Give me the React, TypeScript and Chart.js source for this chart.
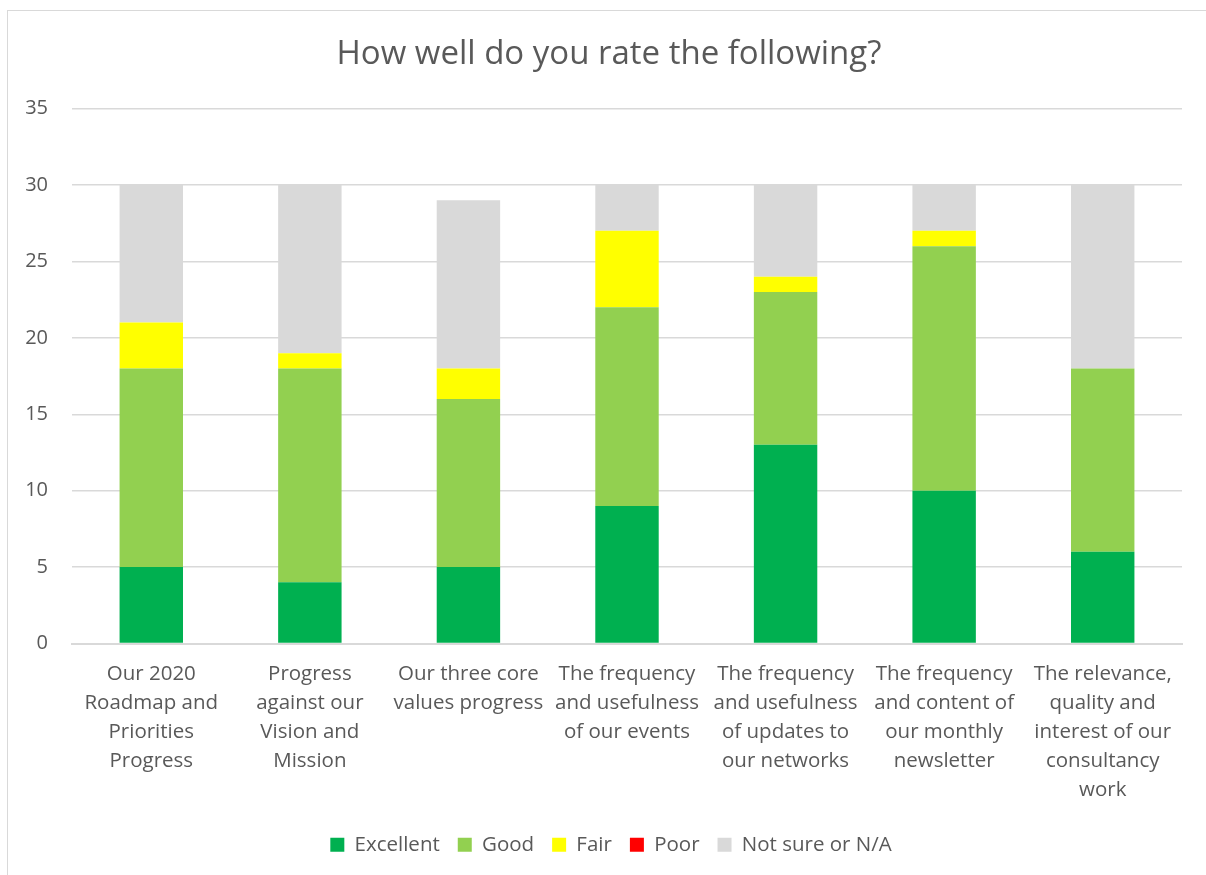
import React, { useEffect, useRef } from "react";
import { Chart, registerables } from "chart.js";

Chart.register(...registerables);

const categories: string[][] = [
  ["Our 2020", "Roadmap and", "Priorities", "Progress"],
  ["Progress", "against our", "Vision and", "Mission"],
  ["Our three core", "values progress"],
  ["The frequency", "and usefulness", "of our events"],
  ["The frequency", "and usefulness", "of updates to", "our networks"],
  ["The frequency", "and content of", "our monthly", "newsletter"],
  ["The relevance,", "quality and", "interest of our", "consultancy", "work"],
];

const excellent = [5, 4, 5, 9, 13, 10, 6];
const good = [13, 14, 11, 13, 10, 16, 12];
const fair = [3, 1, 2, 5, 1, 1, 0];
const poor = [0, 0, 0, 0, 0, 0, 0];
const notSure = [9, 11, 11, 3, 6, 3, 12];

const yMax = 35;
const yStep = 5;

const TEXT = "#595959";
const GRID = "#d9d9d9";
const FONT = "'Open Sans', sans-serif";

const framePlugin = {
  id: "frame",
  afterLayout(chart: any) {
    // centre title and legend on the chart frame (like the original)
    if (chart.titleBlock) chart.titleBlock.left = 36;
    if (chart.legend) chart.legend.left = 40;
  },
  beforeDraw(chart: any) {
    const ctx = chart.ctx;
    ctx.save();
    ctx.fillStyle = "#ffffff";
    ctx.fillRect(0, 0, chart.width, chart.height);
    ctx.strokeStyle = GRID;
    ctx.lineWidth = 1;
    ctx.strokeRect(7.5, 10.5, chart.width + 20, chart.height + 20);
    ctx.restore();
  },
};

export default function App() {
  const ref = useRef<HTMLCanvasElement | null>(null);

  useEffect(() => {
    if (!ref.current) return;
    const mk = (label: string, data: number[], color: string) => ({
      label,
      data,
      backgroundColor: color,
      borderWidth: 0,
      barPercentage: 0.4,
      categoryPercentage: 1,
    });
    const chart = new Chart(ref.current, {
      type: "bar",
      data: {
        labels: categories,
        datasets: [
          mk("Excellent", excellent, "#00B050"),
          mk("Good", good, "#92D050"),
          mk("Fair", fair, "#FFFF00"),
          mk("Poor", poor, "#FF0000"),
          mk("Not sure or N/A", notSure, "#D9D9D9"),
        ],
      },
      options: {
        animation: false,
        responsive: false,
        maintainAspectRatio: false,
        layout: { padding: { left: 8, right: 24, top: 0, bottom: 10 } },
        plugins: {
          title: {
            display: true,
            text: "How well do you rate the following?",
            color: TEXT,
            font: { family: FONT, size: 33, weight: "normal", lineHeight: 1.2 },
            padding: { top: 35, bottom: 34 },
          },
          legend: {
            position: "bottom",
            labels: {
              color: TEXT,
              font: { family: FONT, size: 20.5 },
              boxWidth: 14,
              boxHeight: 14,
              padding: 18,
            },
          },
          tooltip: { enabled: false },
        },
        scales: {
          x: {
            stacked: true,
            grid: { display: false, drawTicks: false },
            border: { display: true, color: GRID, width: 2 },
            ticks: {
              color: TEXT,
              font: { family: FONT, size: 20.5, lineHeight: 1.415 },
              maxRotation: 0,
              minRotation: 0,
              autoSkip: false,
              padding: 16,
            },
            afterFit(scale: any) {
              scale.height = 173;
            },
          },
          y: {
            stacked: true,
            min: 0,
            max: yMax,
            border: { display: false },
            grid: { color: GRID, lineWidth: 1.5, drawTicks: false },
            ticks: {
              stepSize: yStep,
              color: TEXT,
              font: { family: FONT, size: 20 },
              padding: 24,
            },
            afterFit(scale: any) {
              scale.width = 64;
            },
          },
        },
      },
      plugins: [framePlugin],
    });
    return () => chart.destroy();
  }, []);

  return (
    <div style={{ position: "fixed", left: 0, top: 0, width: 1206, height: 875, overflow: "hidden", background: "#fff" }}>
      <canvas ref={ref} width={1206} height={875} />
    </div>
  );
}
